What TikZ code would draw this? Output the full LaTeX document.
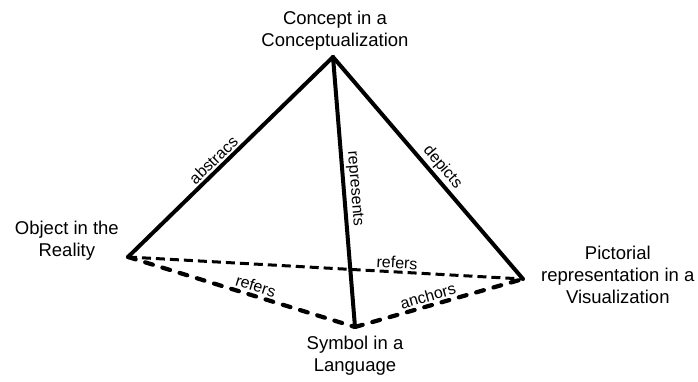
\documentclass[tikz,border=0pt]{standalone}
\usepackage{fontspec}
\setmainfont{Liberation Sans}
\usetikzlibrary{positioning}

\tikzset{
  corner/.style={align=center,inner sep=0pt,font=\fontsize{18.5}{22}\selectfont},
  rel/.style={sloped,above,inner sep=2pt,font=\fontsize{16}{18}\selectfont},
  strong/.style={line width=4pt,line cap=round,line join=round},
  weak/.style={line width=4.2pt,line cap=round,dash pattern=on 8pt off 10pt},
  faint/.style={line width=3pt,dash pattern=on 9pt off 5pt}
}

\begin{document}
\begin{tikzpicture}[x=1pt,y=1pt,node distance=6pt]
	\useasboundingbox (0,0) rectangle (698,381);
	\coordinate (concept) at (333,324);
	\coordinate (object) at (128,124);
	\coordinate (picture) at (523,102);
	\coordinate (symbol) at (355,54);
	\node[corner] (conceptlbl) [above=6pt of concept,xshift=2pt] {Concept in a\\Conceptualization};
	\node[corner] (objectlbl) [left=9pt of object,yshift=16pt] {Object in the\\Reality};
	\node[corner] (picturelbl) [right=18pt of picture,yshift=4pt] {Pictorial\\representation in a\\Visualization};
	\node[corner] (symbollbl) [below=9pt of symbol] {Symbol in a\\Language};
	% dashed base
	\draw[faint] (object) -- node[rel,pos=0.68] {refers} (picture);
	\draw[weak] (object) -- node[rel,pos=0.55] {refers} (symbol);
	\draw[weak] (symbol) -- node[rel,pos=0.45] {anchors} (picture);
	% solid edges
	\draw[strong] (object) -- node[rel,pos=0.45] {abstracs} (concept);
	\draw[strong] (concept) -- node[rel,pos=0.49] {represents} (symbol);
	\draw[strong] (concept) -- node[rel,pos=0.53] {depicts} (picture);
\end{tikzpicture}
\end{document}
